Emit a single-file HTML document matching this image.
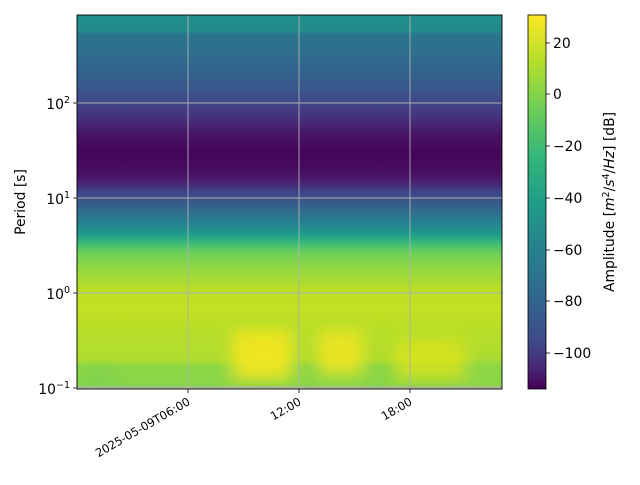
<!DOCTYPE html>
<html><head><style>
body{margin:0;background:#fff;width:640px;height:480px;overflow:hidden;font-family:"Liberation Sans","DejaVu Sans",sans-serif}
</style></head><body>
<svg width="640" height="480" xmlns="http://www.w3.org/2000/svg" font-family="DejaVu Sans, Liberation Sans, sans-serif">
<defs>
<linearGradient id="spec" x1="0" y1="15" x2="0" y2="389" gradientUnits="userSpaceOnUse">
<stop offset="0" stop-color="#21918c"/>
<stop offset="0.045" stop-color="#22898d"/>
<stop offset="0.05" stop-color="#2a768e"/>
<stop offset="0.107" stop-color="#2e6d8e"/>
<stop offset="0.187" stop-color="#375b8d"/>
<stop offset="0.24" stop-color="#414487"/>
<stop offset="0.28" stop-color="#472d7b"/>
<stop offset="0.32" stop-color="#471365"/>
<stop offset="0.37" stop-color="#450559"/>
<stop offset="0.42" stop-color="#470e61"/>
<stop offset="0.45" stop-color="#482475"/>
<stop offset="0.47" stop-color="#404387"/>
<stop offset="0.49" stop-color="#3b528b"/>
<stop offset="0.535" stop-color="#2c738e"/>
<stop offset="0.565" stop-color="#23898e"/>
<stop offset="0.59" stop-color="#1fa088"/>
<stop offset="0.61" stop-color="#3bbb75"/>
<stop offset="0.635" stop-color="#6ccd5a"/>
<stop offset="0.68" stop-color="#95d840"/>
<stop offset="0.735" stop-color="#bade28"/>
<stop offset="0.78" stop-color="#c5e021"/>
<stop offset="0.84" stop-color="#b8de29"/>
<stop offset="0.92" stop-color="#b0dd2f"/>
<stop offset="0.94" stop-color="#8ed645"/>
<stop offset="1" stop-color="#86d549"/>
</linearGradient>
<linearGradient id="cb" x1="0" y1="15" x2="0" y2="389" gradientUnits="userSpaceOnUse">
<stop offset="0" stop-color="#fde725"/><stop offset="0.125" stop-color="#b5de2b"/>
<stop offset="0.25" stop-color="#6ece58"/><stop offset="0.375" stop-color="#35b779"/>
<stop offset="0.5" stop-color="#1f9e89"/><stop offset="0.625" stop-color="#26828e"/>
<stop offset="0.75" stop-color="#31688e"/><stop offset="0.875" stop-color="#3e4989"/>
<stop offset="0.94" stop-color="#482878"/><stop offset="1" stop-color="#440154"/>
</linearGradient>
<filter id="bl"><feGaussianBlur stdDeviation="8"/></filter>
<clipPath id="cp"><rect x="77" y="15" width="425" height="374"/></clipPath>
</defs>
<rect x="77" y="15" width="425" height="374" fill="url(#spec)"/>
<g clip-path="url(#cp)" filter="url(#bl)">
<rect x="232" y="330" width="60" height="50" fill="#f6e61f" opacity="0.9"/>
<rect x="318" y="330" width="45" height="45" fill="#f2e51d" opacity="0.85"/>
<rect x="395" y="340" width="70" height="40" fill="#dde318" opacity="0.8"/>
<rect x="77" y="370" width="40" height="20" fill="#7ad151" opacity="0.6"/>
<rect x="470" y="360" width="32" height="30" fill="#8fd744" opacity="0.6"/>
</g>
<rect x="77" y="386" width="425" height="3" fill="#b0b0b0" opacity="0.7"/>
<g stroke="#b0b0b0" stroke-width="0.9">
<line x1="188" y1="15" x2="188" y2="389"/><line x1="299" y1="15" x2="299" y2="389"/><line x1="410" y1="15" x2="410" y2="389"/>
<line x1="77" y1="103" x2="502" y2="103"/><line x1="77" y1="198" x2="502" y2="198"/><line x1="77" y1="293" x2="502" y2="293"/>
</g>
<rect x="77" y="15" width="425" height="374" fill="none" stroke="#000" stroke-width="0.9"/>
<g stroke="#000" stroke-width="0.8">
<line x1="73" y1="103" x2="77" y2="103"/><line x1="73" y1="198" x2="77" y2="198"/><line x1="73" y1="293" x2="77" y2="293"/><line x1="73" y1="388" x2="77" y2="388"/>
<line x1="188" y1="389" x2="188" y2="393"/><line x1="299" y1="389" x2="299" y2="393"/><line x1="410" y1="389" x2="410" y2="393"/>
</g>
<g stroke="#000" stroke-width="0.6" id="minor"></g>
<g font-size="13.9" fill="#000" text-anchor="end">
<text x="70" y="109">10<tspan dy="-6" font-size="9.5">2</tspan></text>
<text x="70" y="204">10<tspan dy="-6" font-size="9.5">1</tspan></text>
<text x="70" y="299">10<tspan dy="-6" font-size="9.5">0</tspan></text>
<text x="70" y="394">10<tspan dy="-6" font-size="9.5">−1</tspan></text>
</g>
<text transform="translate(25,202) rotate(-90)" font-size="13.9" text-anchor="middle">Period [s]</text>
<g font-size="11.5" text-anchor="end">
<text transform="translate(191,404) rotate(-30)">2025-05-09T06:00</text>
<text transform="translate(302,404) rotate(-30)">12:00</text>
<text transform="translate(413,404) rotate(-30)">18:00</text>
</g>
<rect x="528" y="15" width="18" height="374" fill="url(#cb)"/>
<rect x="528" y="15" width="18" height="374" fill="none" stroke="#000" stroke-width="0.8"/>
<g stroke="#000" stroke-width="0.8">
<line x1="546" y1="43" x2="550" y2="43"/><line x1="546" y1="94" x2="550" y2="94"/><line x1="546" y1="146" x2="550" y2="146"/>
<line x1="546" y1="198" x2="550" y2="198"/><line x1="546" y1="250" x2="550" y2="250"/><line x1="546" y1="301" x2="550" y2="301"/><line x1="546" y1="353" x2="550" y2="353"/>
</g>
<g font-size="13.9">
<text x="553" y="48">20</text><text x="553" y="99">0</text><text x="553" y="151">−20</text>
<text x="553" y="203">−40</text><text x="553" y="255">−60</text><text x="553" y="306">−80</text><text x="553" y="358">−100</text>
</g>
<text transform="translate(614,202) rotate(-90)" font-size="13.9" text-anchor="middle">Amplitude [<tspan font-style="italic">m</tspan><tspan dy="-5" font-size="9.5">2</tspan><tspan dy="5">/</tspan><tspan font-style="italic">s</tspan><tspan dy="-5" font-size="9.5">4</tspan><tspan dy="5">/</tspan><tspan font-style="italic">Hz</tspan>] [dB]</text>
<script>
var g=document.getElementById('minor'),s='';
for(var d=-1;d<3;d++){for(var k=2;k<10;k++){var y=388-95*(d+1+Math.log10(k));if(y>=15)s+='<line x1="75" y1="'+y+'" x2="77" y2="'+y+'"/>';}}
g.innerHTML=s;
</script>
</svg>
</body></html>
